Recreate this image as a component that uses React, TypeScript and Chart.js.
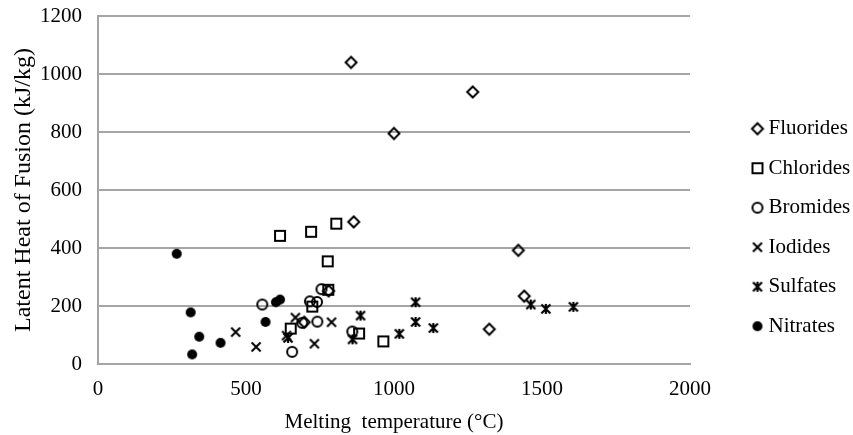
import React, { useEffect, useRef } from 'react';
import { Chart, registerables } from 'chart.js';

Chart.register(...registerables);

// ---- Data (melting temperature °C, latent heat kJ/kg) ----
const fluoridesX = [855, 1266, 1000, 864, 779, 697, 1420, 1440, 1322];
const fluoridesY = [1040, 938, 795, 490, 252, 144, 392, 234, 120];

const chloridesX = [615, 720, 805, 776, 778, 724, 651, 882, 964];
const chloridesY = [442, 456, 484, 354, 256, 198, 122, 105, 78];

const bromidesX = [555, 755, 716, 740, 741, 690, 656, 859];
const bromidesY = [205, 258, 216, 214, 146, 142, 42, 112];

const iodidesX = [465, 534, 667, 637, 731, 789];
const iodidesY = [110, 59, 160, 98, 70, 144];

const sulfatesX = [887, 860, 1018, 1073, 1073, 1133, 1462, 1513, 1606, 642];
const sulfatesY = [167, 85, 104, 213, 145, 124, 205, 190, 197, 90];

const nitratesX = [266, 313, 342, 318, 414, 566, 601, 615];
const nitratesY = [380, 178, 94, 33, 73, 145, 213, 222];

const seriesLabels = ['Fluorides', 'Chlorides', 'Bromides', 'Iodides', 'Sulfates', 'Nitrates'];
const xTitle = 'Melting  temperature (°C)';
const yTitle = 'Latent Heat of Fusion (kJ/kg)';

const FONT_FAMILY = "'Liberation Serif', 'Times New Roman', serif";

function makeMarker(kind: string): HTMLCanvasElement {
  const c = document.createElement('canvas');
  c.width = 16;
  c.height = 16;
  const g = c.getContext('2d')!;
  g.strokeStyle = '#000';
  g.fillStyle = '#000';
  g.lineWidth = 2;
  g.lineJoin = 'miter';
  g.beginPath();
  if (kind === 'diamond') {
    g.moveTo(2.5, 8);
    g.lineTo(8, 2.5);
    g.lineTo(13.5, 8);
    g.lineTo(8, 13.5);
    g.closePath();
    g.stroke();
  } else if (kind === 'square') {
    g.rect(3, 3, 10, 10);
    g.stroke();
  } else if (kind === 'circle') {
    g.arc(8, 8, 5, 0, Math.PI * 2);
    g.stroke();
  } else if (kind === 'x') {
    g.moveTo(3.5, 3.5);
    g.lineTo(12.5, 12.5);
    g.moveTo(12.5, 3.5);
    g.lineTo(3.5, 12.5);
    g.stroke();
  } else if (kind === 'star') {
    g.lineWidth = 2.2;
    g.moveTo(3.5, 3.5);
    g.lineTo(12.5, 12.5);
    g.moveTo(12.5, 3.5);
    g.lineTo(3.5, 12.5);
    g.moveTo(8, 3);
    g.lineTo(8, 13);
    g.stroke();
  } else {
    g.arc(8, 8, 5, 0, Math.PI * 2);
    g.fill();
  }
  return c;
}

export default function App() {
  const ref = useRef<HTMLCanvasElement>(null);

  useEffect(() => {
    document.body.style.margin = '0';
    const font = { family: FONT_FAMILY, size: 21 };
    const titleFont = { family: FONT_FAMILY, size: 24 };
    const kinds = ['diamond', 'square', 'circle', 'x', 'star', 'dot'];
    const xs = [fluoridesX, chloridesX, bromidesX, iodidesX, sulfatesX, nitratesX];
    const ys = [fluoridesY, chloridesY, bromidesY, iodidesY, sulfatesY, nitratesY];

    const datasets = seriesLabels.map((label, k) => ({
      label,
      data: xs[k].map((x, i) => ({ x, y: ys[k][i] })),
      pointStyle: makeMarker(kinds[k]),
      pointRadius: 6,
      pointHoverRadius: 6,
      showLine: false,
      borderColor: '#000',
      backgroundColor: '#000',
    }));

    const placer = {
      id: 'legendPlacer',
      beforeLayout(chart: any) {
        const lg = chart.legend;
        if (lg && !lg._patched) {
          const orig = lg.fit.bind(lg);
          lg.fit = () => {
            orig();
            lg.width = 163;
          };
          lg._patched = true;
        }
      },
      afterLayout(chart: any) {
        const lg = chart.legend;
        if (!lg) return;
        lg.left = 738.5;
        lg.right = 853;
        lg.top = 99.7;
        lg.bottom = 435;
      },
    };

    const plain = (v: any) => String(v);

    const chart = new Chart(ref.current!, {
      type: 'scatter',
      data: { datasets },
      options: {
        responsive: false,
        animation: false,
        events: [],
        layout: { padding: { top: 16, left: 0, right: 0, bottom: 0 } },
        scales: {
          x: {
            type: 'linear',
            min: 0,
            max: 2000,
            ticks: { stepSize: 500, font, color: '#000', padding: 13, callback: plain },
            grid: { display: false, drawTicks: false },
            border: { display: true, color: '#a5a5a5', width: 2 },
            title: { display: true, text: xTitle, font, color: '#000', padding: { top: 0, bottom: 0 } },
            afterFit: (s: any) => {
              s.height = 71;
              s.paddingLeft = 0;
              s.paddingRight = 0;
            },
          },
          y: {
            type: 'linear',
            min: 0,
            max: 1200,
            ticks: { stepSize: 200, font, color: '#000', padding: 16, callback: plain },
            grid: { color: '#a5a5a5', lineWidth: 2, drawTicks: false },
            border: { display: true, color: '#a5a5a5', width: 2 },
            title: { display: true, text: yTitle, font: titleFont, color: '#000', padding: { top: 9, bottom: 0 } },
            afterFit: (s: any) => {
              s.width = 98;
              s.paddingTop = 0;
              s.paddingBottom = 0;
            },
          },
        },
        plugins: {
          legend: {
            position: 'right',
            align: 'start',
            labels: {
              usePointStyle: true,
              pointStyleWidth: 1,
              font,
              color: '#000',
              padding: 18.5,
            },
          },
          tooltip: { enabled: false },
        },
      } as any,
      plugins: [placer],
    });

    return () => chart.destroy();
  }, []);

  return (
    <div style={{ width: 853, height: 435 }}>
      <canvas ref={ref} width={853} height={435} style={{ display: 'block' }} />
    </div>
  );
}
